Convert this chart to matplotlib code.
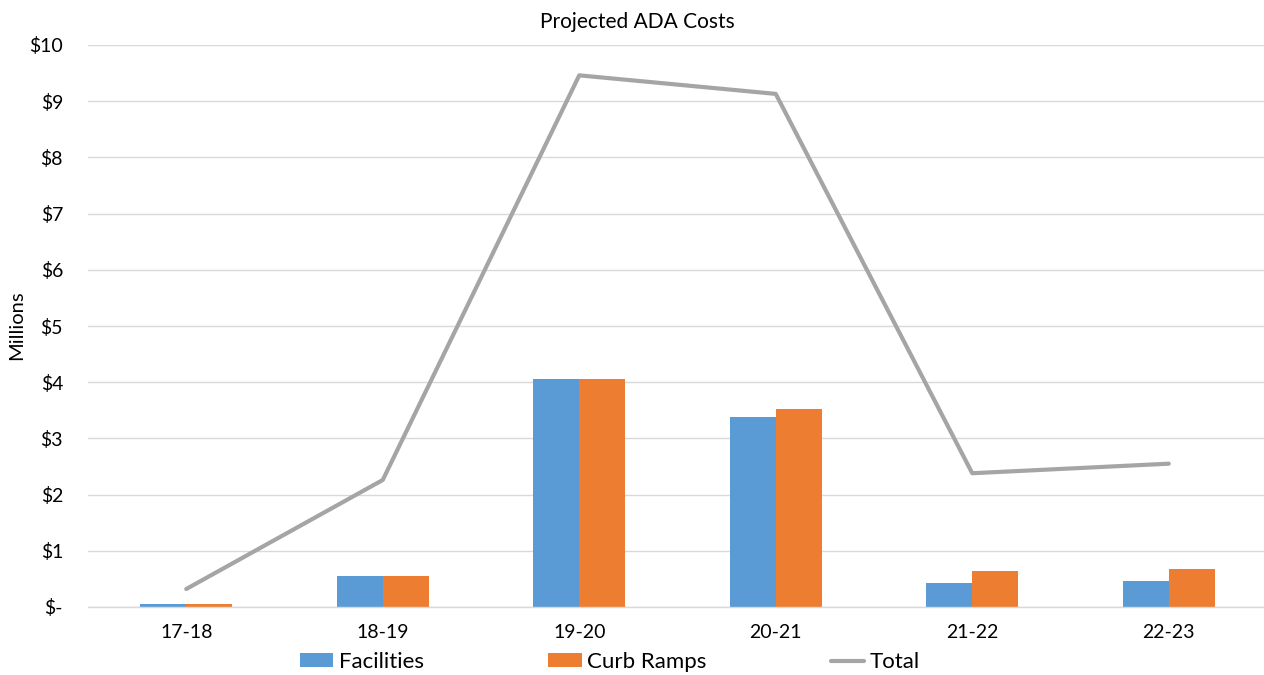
import matplotlib
matplotlib.use("Agg")
import matplotlib.pyplot as plt
from matplotlib.ticker import FuncFormatter
import numpy as np

plt.rcParams["font.family"] = ["Lato", "DejaVu Sans"]

# values in millions of dollars
years = ["17-18", "18-19", "19-20", "20-21", "21-22", "22-23"]
facilities = [0.05, 0.56, 4.06, 3.38, 0.43, 0.46]
curb_ramps = [0.05, 0.56, 4.06, 3.52, 0.64, 0.67]
total = [0.32, 2.26, 9.46, 9.13, 2.38, 2.55]

BLUE = "#5B9BD5"
ORANGE = "#ED7D31"
GREY = "#A5A5A5"
GRID = "#D9D9D9"
TEXT = "#000000"


def dollar(v, pos):
    """Excel accounting style tick labels"""
    if abs(v) < 1e-9:
        return "$-"
    return "$%d" % v


fig = plt.figure(figsize=(12.64, 6.75), dpi=100)
ax = fig.add_axes([88 / 1264, 68 / 675, 1179 / 1264, 562 / 675])

x = np.arange(len(years))
w = 0.234
b1 = ax.bar(x - w / 2, facilities, w, color=BLUE, zorder=2)
b2 = ax.bar(x + w / 2, curb_ramps, w, color=ORANGE, zorder=2)
(ln,) = ax.plot(x, total, color=GREY, lw=3, zorder=3,
                solid_joinstyle="round", solid_capstyle="round")

ax.set_xlim(-0.5, len(years) - 0.5)
ax.set_ylim(0, 10)
ax.set_yticks(np.arange(0, 11, 1))
ax.yaxis.set_major_formatter(FuncFormatter(dollar))
ax.set_xticks(x)
ax.set_xticklabels(years)
ax.grid(axis="y", color=GRID, lw=1, zorder=0)
ax.set_axisbelow(True)

for side in ["top", "right", "left"]:
    ax.spines[side].set_visible(False)
ax.spines["bottom"].set_color(GRID)
ax.spines["bottom"].set_linewidth(1)

ax.tick_params(axis="y", length=0, pad=18, labelsize=14, labelcolor=TEXT)
ax.tick_params(axis="x", length=0, pad=12, labelsize=14, labelcolor=TEXT)

fig.text(17 / 1264, 1 - 325 / 675, "Millions", rotation=90, ha="center",
         va="center", fontsize=14.5)
fig.text(637 / 1264, 1 - 22 / 675, "Projected ADA Costs", ha="center",
         va="center", fontsize=15)

fig.legend([b1, b2, ln], ["Facilities", "Curb Ramps", "Total"],
           loc="center left", bbox_to_anchor=(300 / 1264, 1 - 662 / 675),
           ncol=3, frameon=False, fontsize=16, handlelength=1.5,
           handleheight=0.55, handletextpad=0.25, columnspacing=5.6,
           borderpad=0, borderaxespad=0)

fig.savefig("out.png", dpi=100)
